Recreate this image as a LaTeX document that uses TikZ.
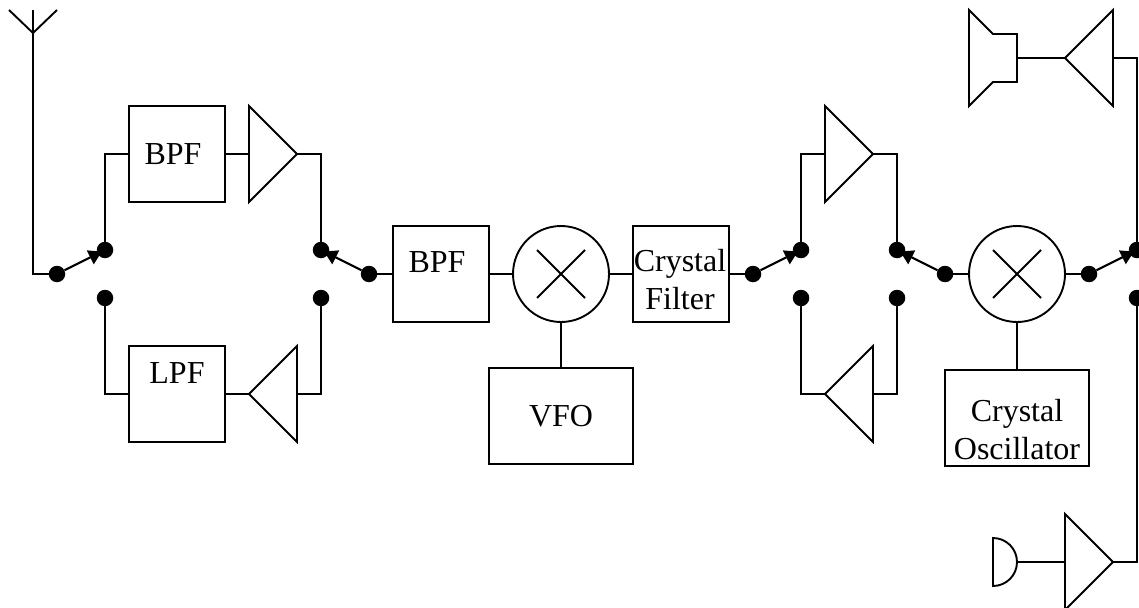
\documentclass[tikz,border=0pt]{standalone}
\usepackage{fontspec}
\setmainfont{Liberation Serif}
\usetikzlibrary{arrows.meta}
\tikzset{
  wire/.style={line width=1.9pt,line join=miter},
  fblock/.style={draw,line width=1.9pt,inner sep=0pt,minimum width=96pt,minimum height=96pt},
  wblock/.style={fblock,minimum width=144pt},
  mixer/.style={draw,circle,line width=1.9pt,inner sep=0pt,minimum size=96pt},
  junction/.style={circle,fill=black,inner sep=0pt,minimum size=16.5pt},
  swarm/.style={line width=2.2pt,shorten >=-5pt,-{Triangle[length=13pt,width=15pt]}},
  caption/.style={inner sep=0pt,align=center,font=\fontsize{32}{38}\selectfont}
}
\begin{document}
\begin{tikzpicture}[x=1pt,y=-1pt]
\useasboundingbox (0,0) rectangle (1139,607);
% blocks
\node[fblock] (bpfa) at (177,154) {};
\node[fblock] (lpf) at (177,394) {};
\node[fblock] (bpfb) at (441,274) {};
\node[fblock] (xf) at (681,274) {};
\node[wblock] (vfo) at (561,416) {};
\node[wblock] (xo) at (1017,418) {};
\node[mixer] (mxa) at (561,274) {};
\node[mixer] (mxb) at (1017,274) {};
\node[caption] (tbpfa) at (173,154) {BPF};
\node[caption] (tlpf) at (177,373) {LPF};
\node[caption] (tbpfb) at (437,262) {BPF};
\node[caption] (txf) at (680,280) {Crystal\\Filter};
\node[caption] (tvfo) at (561,416) {VFO};
\node[caption] (txo) at (1017,430) {Crystal\\Oscillator};
% mixer crosses
\draw[wire] (537,250) -- (585,298) (585,250) -- (537,298);
\draw[wire] (993,250) -- (1041,298) (1041,250) -- (993,298);
% junctions
\node[junction] (s1) at (57,274) {};
\node[junction] (s1a) at (105,250) {};
\node[junction] (s1b) at (105,298) {};
\node[junction] (s2a) at (321,250) {};
\node[junction] (s2b) at (321,298) {};
\node[junction] (s2) at (369,274) {};
\node[junction] (s3) at (753,274) {};
\node[junction] (s3a) at (801,250) {};
\node[junction] (s3b) at (801,298) {};
\node[junction] (s4a) at (897,250) {};
\node[junction] (s4b) at (897,298) {};
\node[junction] (s4) at (945,274) {};
\node[junction] (s5) at (1089,274) {};
\node[junction] (s5a) at (1137,250) {};
\node[junction] (s5b) at (1137,298) {};
% amplifiers
\coordinate (aain) at (249,154); \coordinate (aaout) at (297,154);
\draw[wire] (249,106) -- (aaout) -- (249,202) -- cycle;
\coordinate (abin) at (297,394); \coordinate (about) at (249,394);
\draw[wire] (297,346) -- (about) -- (297,442) -- cycle;
\coordinate (acin) at (825,154); \coordinate (acout) at (873,154);
\draw[wire] (825,106) -- (acout) -- (825,202) -- cycle;
\coordinate (adin) at (873,394); \coordinate (adout) at (825,394);
\draw[wire] (873,346) -- (adout) -- (873,442) -- cycle;
\coordinate (aein) at (1113,58); \coordinate (aeout) at (1065,58);
\draw[wire] (1113,10) -- (aeout) -- (1113,106) -- cycle;
\coordinate (afin) at (1065,562); \coordinate (afout) at (1113,562);
\draw[wire] (1065,514) -- (afout) -- (1065,610) -- cycle;
% antenna
\coordinate (anttop) at (33,10);
\coordinate (antv) at (33,33);
\draw[wire] (9,10) -- (antv) -- (57,10);
\draw[wire] (anttop) -- (antv) |- (s1.center);
% speaker
\coordinate (spk) at (1017,58);
\draw[wire] (969,10) -- (993,34) -- (1017,34) -- (1017,82) -- (993,82) -- (969,106) -- cycle;
\draw[wire] (spk) -- (aeout);
% microphone
\coordinate (mic) at (1017,562);
\draw[wire] (993,538) arc[start angle=90,end angle=-90,radius=24pt] -- cycle;
\draw[wire] (mic) -- (afin);
% connectors
\draw[wire] (s1a.center) |- (bpfa.west);
\draw[wire] (bpfa.east) -- (aain);
\draw[wire] (aaout) -| (s2a.center);
\draw[wire] (s1b.center) |- (lpf.west);
\draw[wire] (lpf.east) -- (about);
\draw[wire] (abin) -| (s2b.center);
\draw[wire] (s2.center) -- (bpfb.west);
\draw[wire] (bpfb.east) -- (mxa.west);
\draw[wire] (mxa.east) -- (xf.west);
\draw[wire] (xf.east) -- (s3.center);
\draw[wire] (mxa.south) -- (vfo.north);
\draw[wire] (s3a.center) |- (acin);
\draw[wire] (acout) -| (s4a.center);
\draw[wire] (s3b.center) |- (adout);
\draw[wire] (adin) -| (s4b.center);
\draw[wire] (s4.center) -- (mxb.west);
\draw[wire] (mxb.east) -- (s5.center);
\draw[wire] (mxb.south) -- (xo.north);
\draw[wire] (aein) -| (s5a.center);
\draw[wire] (afout) -| (s5b.center);
% switch arms
\draw[swarm] (s1) -- (s1a);
\draw[swarm] (s2) -- (s2a);
\draw[swarm] (s3) -- (s3a);
\draw[swarm] (s4) -- (s4a);
\draw[swarm] (s5) -- (s5a);
\end{tikzpicture}
\end{document}
